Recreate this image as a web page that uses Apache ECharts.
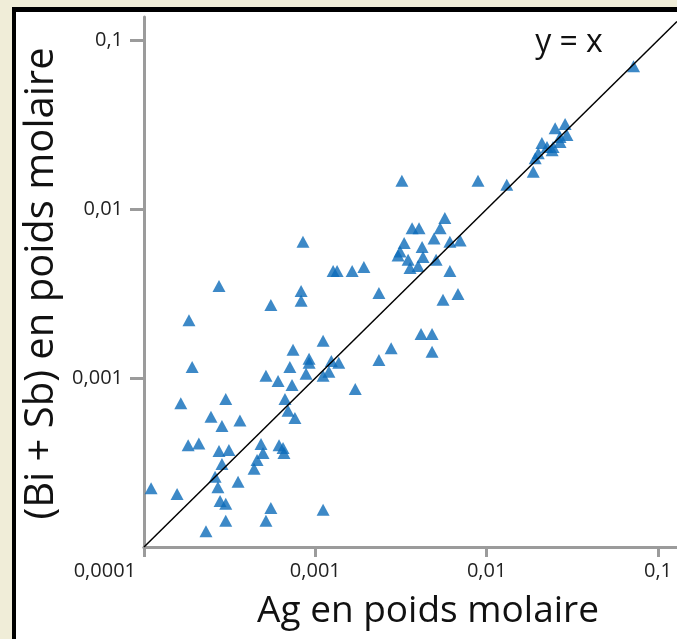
<!DOCTYPE html>
<html>
<head>
<meta charset="utf-8">
<script src="https://cdn.jsdelivr.net/npm/echarts@6/dist/echarts.min.js"></script>
<style>
  html, body { margin: 0; padding: 0; width: 677px; height: 639px; overflow: hidden; background: #f0edd8; }
  #frame { position: absolute; left: 12px; top: 7px; width: 700px; height: 700px; background: #fff;
           border-left: 4px solid #000; border-top: 5px solid #000; }
  #chart { position: absolute; left: 0; top: 0; width: 677px; height: 639px; }
</style>
</head>
<body>
<div id="frame"></div>
<div id="chart"></div>
<script>
// Ag (x) et Bi + Sb (y), en poids molaire
var agValues = [
  1.1e-4, 1.56e-4, 1.64e-4, 1.81e-4, 1.83e-4, 1.91e-4, 2.09e-4, 2.30e-4, 2.46e-4, 2.74e-4,
  2.74e-4, 2.85e-4, 2.85e-4, 2.6e-4, 2.7e-4, 2.78e-4, 3.0e-4, 3.0e-4, 3.0e-4, 3.13e-4,
  3.54e-4, 3.63e-4, 4.39e-4, 4.57e-4, 4.82e-4, 4.95e-4, 5.15e-4, 5.15e-4, 5.5e-4, 5.5e-4,
  6.06e-4, 6.14e-4, 6.48e-4, 6.56e-4, 6.65e-4, 6.93e-4, 7.1e-4, 7.31e-4, 7.41e-4, 7.6e-4,
  8.26e-4, 8.26e-4, 8.47e-4, 8.83e-4, 9.19e-4, 9.2e-4, 1.11e-3, 1.11e-3, 1.2e-3, 1.24e-3,
  1.37e-3, 1.11e-3, 1.27e-3, 1.34e-3, 1.64e-3, 1.71e-3, 1.92e-3, 2.35e-3, 2.35e-3, 2.77e-3,
  3.2e-3, 3.3e-3, 3.12e-3, 3.04e-3, 3.48e-3, 3.57e-3, 3.67e-3, 4.03e-3, 3.98e-3, 4.2e-3,
  4.25e-3, 4.93e-3, 5.07e-3, 5.35e-3, 5.7e-3, 6.1e-3, 6.1e-3, 7.0e-3, 6.8e-3, 5.56e-3,
  4.14e-3, 4.8e-3, 4.8e-3, 8.9e-3, 1.31e-2, 1.87e-2, 1.92e-2, 2.0e-2, 2.1e-2, 2.25e-2,
  2.41e-2, 2.44e-2, 2.51e-2, 2.68e-2, 2.68e-2, 2.87e-2, 2.94e-2, 7.2e-2
];
var biSbValues = [
  2.23e-4, 2.06e-4, 7.1e-4, 4.0e-4, 2.2e-3, 1.16e-3, 4.1e-4, 1.24e-4, 5.9e-4, 3.5e-3,
  3.7e-4, 5.2e-4, 3.1e-4, 2.6e-4, 2.26e-4, 1.87e-4, 1.8e-4, 1.43e-4, 7.5e-4, 3.75e-4,
  2.43e-4, 5.6e-4, 2.9e-4, 3.27e-4, 4.07e-4, 3.6e-4, 1.03e-3, 1.43e-4, 2.7e-3, 1.7e-4,
  9.6e-4, 4.0e-4, 3.85e-4, 3.6e-4, 7.5e-4, 6.4e-4, 1.16e-3, 9.1e-4, 1.47e-3, 5.8e-4,
  3.27e-3, 2.86e-3, 6.4e-3, 1.06e-3, 1.3e-3, 1.23e-3, 1.66e-3, 1.03e-3, 1.09e-3, 1.26e-3,
  1.23e-3, 1.66e-4, 4.3e-3, 4.3e-3, 4.3e-3, 8.6e-4, 4.54e-3, 3.18e-3, 1.28e-3, 1.5e-3,
  1.47e-2, 6.3e-3, 5.6e-3, 5.3e-3, 5.0e-3, 4.48e-3, 7.7e-3, 7.7e-3, 4.6e-3, 5.96e-3,
  5.2e-3, 6.7e-3, 5.0e-3, 7.7e-3, 8.85e-3, 6.4e-3, 4.3e-3, 6.5e-3, 3.14e-3, 2.9e-3,
  1.82e-3, 1.82e-3, 1.43e-3, 1.47e-2, 1.39e-2, 1.66e-2, 2.0e-2, 2.14e-2, 2.46e-2, 2.33e-2,
  2.23e-2, 2.33e-2, 3.0e-2, 2.67e-2, 2.49e-2, 3.18e-2, 2.74e-2, 7.0e-2
];
// droite y = x
var identityLine = [1e-4, 0.129];
// graduations (puissances de 10)
var tickExponents = [-4, -3, -2, -1];
var tickLabels = ['0,0001', '0,001', '0,01', '0,1'];
// les axes continuent un peu au-dela de 0,1
var xAxisEnd = 0.129;
var yAxisEnd = 0.137;

var axisGrey = '#9b9b9b';
var font = 'Open Sans';

function fmtTick(v){
    var e = Math.round(Math.log(v) / Math.LN10);
    var i = tickExponents.indexOf(e);
    return i < 0 ? '' : tickLabels[i];
}

var points = agValues.map(function(x, i){ return [x, biSbValues[i]]; });
var linePts = identityLine.map(function(v){ return [v, v]; });

var chart = echarts.init(document.getElementById('chart'));
chart.setOption({
    backgroundColor: 'transparent',
    animation: false,
    grid: [
        { left: 144, top: 40, width: 514, height: 507 },
        { left: 144, top: 17, right: 0, height: 530 }
    ],
    xAxis: [{
        type: 'log', logBase: 10, min: 1e-4, max: 0.1, gridIndex: 0,
        name: 'Ag en poids molaire', nameLocation: 'middle', nameGap: 46,
        nameTextStyle: { fontFamily: font, fontSize: 37, color: '#111', padding: [0, 0, 0, 54] },
        axisLine: { lineStyle: { color: axisGrey, width: 3 } },
        axisTick: { length: 10, lineStyle: { color: axisGrey, width: 3 } },
        splitLine: { show: false },
        axisLabel: {
            fontFamily: font, fontSize: 20, color: '#222', margin: 14,
            alignMinLabel: 'right',
            formatter: function(v){
                var s = fmtTick(v);
                return v < 2e-4 ? '{m|' + s + '}' : s;
            },
            rich: { m: { fontFamily: font, fontSize: 20, color: '#222', padding: [0, 8, 0, 0] } }
        }
    }, {
        type: 'log', logBase: 10, min: 1e-4, max: xAxisEnd, gridIndex: 1,
        axisLine: { lineStyle: { color: axisGrey, width: 3 } },
        axisTick: { show: false }, axisLabel: { show: false }, splitLine: { show: false }
    }],
    yAxis: [{
        type: 'log', logBase: 10, min: 1e-4, max: 0.1, gridIndex: 0,
        name: '(Bi + Sb) en poids molaire', nameLocation: 'middle', nameGap: 79,
        nameTextStyle: { fontFamily: font, fontSize: 40, color: '#111', padding: [0, 0, 0, 20] },
        axisLine: { lineStyle: { color: axisGrey, width: 3 } },
        axisTick: { length: 14, lineStyle: { color: axisGrey, width: 3 } },
        splitLine: { show: false },
        axisLabel: { fontFamily: font, fontSize: 20, color: '#222', margin: 21,
                     showMinLabel: false, formatter: fmtTick }
    }, {
        type: 'log', logBase: 10, min: 1e-4, max: yAxisEnd, gridIndex: 1,
        axisLine: { lineStyle: { color: axisGrey, width: 3 } },
        axisTick: { show: false }, axisLabel: { show: false }, splitLine: { show: false }
    }],
    graphic: [
        { type: 'text', x: 569, y: 43, style: { text: 'y = x', font: '32px "Open Sans"', fill: '#111',
          textAlign: 'center', textVerticalAlign: 'middle' } }
    ],
    series: [
        {
            type: 'scatter', data: points, symbol: 'triangle', symbolSize: [13, 12],
            xAxisIndex: 0, yAxisIndex: 0,
            itemStyle: { color: '#0d6cb9' }, z: 2
        },
        {
            type: 'line', data: linePts, showSymbol: false, symbol: 'none',
            xAxisIndex: 1, yAxisIndex: 1,
            lineStyle: { color: '#000', width: 1.5 }, z: 3
        }
    ]
});
</script>
</body>
</html>
